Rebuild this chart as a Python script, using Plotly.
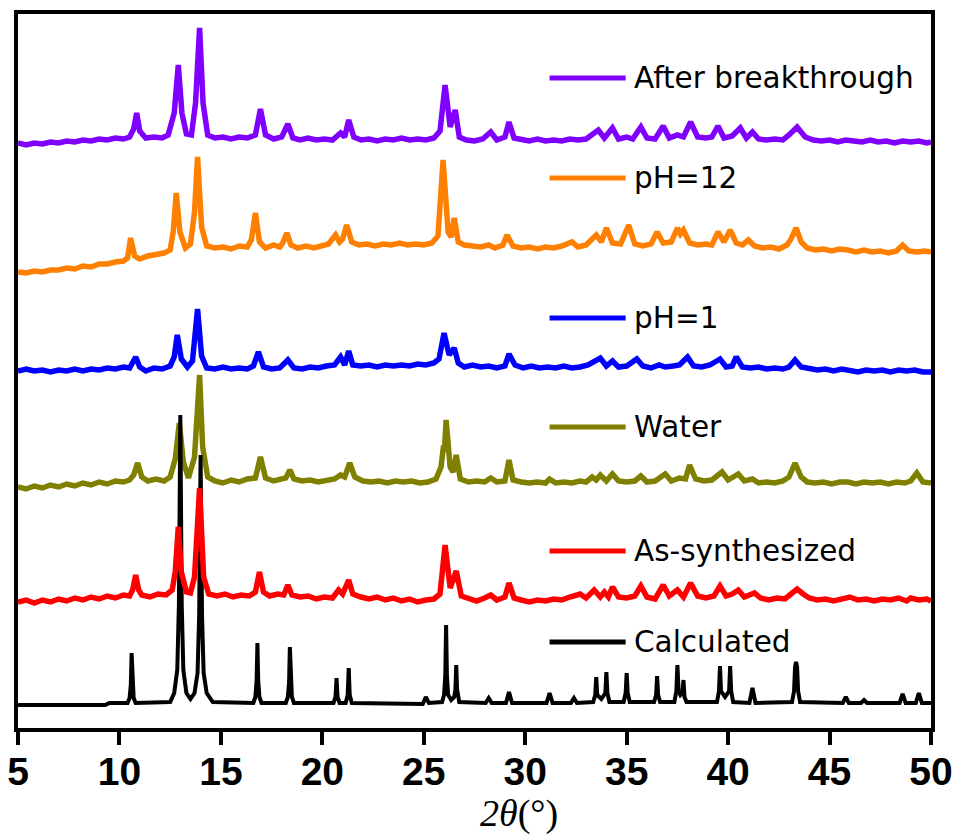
import plotly.graph_objects as go

# ---- Data: 2theta (deg) vs relative intensity (a.u., relative to each pattern's own baseline) ----
CALCULATED = [(5.0,0),(9.3,0),(9.5,2),
    (10.4,2),(10.5,7),(10.56,20),(10.6,52),(10.64,20),(10.7,7),(10.8,2),
    (12.5,3),(12.7,12),(12.85,35),(12.93,100),(13.0,290),(13.07,100),(13.15,35),(13.3,12),(13.5,6),
    (13.7,12),(13.85,32),(13.93,90),(14.0,250),(14.07,90),(14.15,32),(14.3,12),(14.6,3),
    (16.6,2),(16.7,8),(16.76,24),(16.8,62),(16.84,24),(16.9,8),(17.0,2),
    (18.2,2),(18.3,8),(18.36,22),(18.4,58),(18.44,22),(18.5,8),(18.6,2),
    (20.55,2),(20.65,8),(20.7,27),(20.75,8),(20.85,2),
    (21.15,2),(21.25,10),(21.3,37),(21.35,10),(21.45,2),
    (22.8,2),(23.0,1),(24.95,1),(25.1,8),(25.25,2),
    (25.9,3),(26.0,10),(26.06,30),(26.1,80),(26.14,30),(26.2,10),(26.35,5),
    (26.5,8),(26.56,16),(26.6,40),(26.64,16),(26.75,3),
    (28.05,2),(28.2,7),(28.35,2),(29.05,2),(29.2,13),(29.35,2),(31.05,2),(31.2,12),(31.35,2),(32.25,2),(32.4,7),(32.55,2),
    (33.35,3),(33.45,10),(33.5,28),(33.55,10),(33.75,6),(33.95,12),(34.0,33),(34.05,12),(34.15,3),
    (34.85,3),(34.95,12),(35.0,32),(35.05,12),(35.15,3),
    (36.35,3),(36.45,10),(36.5,29),(36.55,10),(36.65,3),
    (37.35,3),(37.45,14),(37.5,40),(37.56,14),(37.65,10),(37.75,12),(37.8,25),(37.85,8),(37.95,3),
    (39.45,3),(39.55,14),(39.6,39),(39.65,14),(39.85,8),(40.05,14),(40.1,39),(40.15,14),(40.25,3),
    (41.05,2),(41.2,17),(41.35,2),
    (43.15,3),(43.25,14),(43.3,38),(43.35,43),(43.4,38),(43.45,14),(43.55,3),
    (45.65,2),(45.8,8),(45.95,2),(46.55,2),(46.7,5),(46.85,2),(48.45,2),(48.6,11),(48.75,2),(49.25,2),(49.4,12),(49.55,2),(50.0,2)]

AS_SYNTHESIZED = [(5.0,0),(5.4,2),(5.8,-1),(6.2,2),(6.6,0),(7.0,3),(7.4,1),(7.8,4),(8.2,2),(8.6,5),(9.0,3),(9.4,6),(9.8,4),(10.2,7),(10.5,6),(10.65,12),(10.8,27),(10.95,12),(11.1,7),(11.5,5),(11.9,8),(12.3,7),(12.6,12),(12.75,30),(12.9,75),(13.05,30),(13.3,10),(13.5,9),(13.7,25),(13.95,114),(14.15,25),(14.4,8),(14.8,6),(15.2,8),(15.6,5),(16.0,7),(16.4,6),(16.7,10),(16.9,30),(17.1,10),(17.4,6),(17.8,8),(18.1,7),(18.3,17),(18.5,7),(18.9,5),(19.3,6),(19.7,3),(20.1,5),(20.5,4),(20.8,12),(21.0,8),(21.3,22),(21.5,8),(21.9,5),(22.3,3),(22.7,5),(23.1,2),(23.5,4),(23.9,1),(24.3,3),(24.7,0),(25.1,2),(25.5,3),(25.8,8),(26.05,57),(26.3,14),(26.6,31),(26.85,6),(27.2,3),(27.6,1),(28.0,4),(28.3,7),(28.6,2),(29.0,5),(29.2,19),(29.45,4),(29.8,2),(30.2,0),(30.6,2),(31.0,1),(31.4,3),(31.8,2),(32.2,5),(32.7,8),(33.0,4),(33.4,12),(33.7,5),(33.9,10),(34.1,5),(34.3,15),(34.6,5),(35.0,4),(35.4,6),(35.7,16),(36.0,5),(36.4,3),(36.8,17),(37.1,6),(37.5,12),(37.8,5),(38.15,19),(38.5,6),(38.9,4),(39.3,6),(39.6,16),(39.9,6),(40.2,8),(40.5,12),(40.8,5),(41.3,9),(41.6,4),(42.0,2),(42.4,4),(42.8,3),(43.1,8),(43.4,13),(43.7,8),(44.0,4),(44.4,2),(44.8,3),(45.2,1),(45.6,3),(46.0,5),(46.4,2),(46.8,3),(47.2,1),(47.6,3),(48.0,2),(48.4,4),(48.8,1),(49.0,4),(49.4,2),(49.8,3),(50.0,1)]

WATER = [(5.0,0),(5.4,-2),(5.8,1),(6.2,-1),(6.6,2),(7.0,0),(7.4,3),(7.8,1),(8.2,4),(8.6,2),(9.0,5),(9.4,3),(9.8,6),(10.2,5),(10.5,7),(10.7,12),(10.9,24),(11.1,10),(11.4,6),(11.8,8),(12.2,6),(12.5,10),(12.75,28),(12.95,64),(13.15,25),(13.4,9),(13.7,30),(13.85,70),(13.95,112),(14.1,40),(14.35,10),(14.7,6),(15.1,4),(15.5,7),(15.9,5),(16.3,8),(16.7,9),(16.95,30),(17.2,9),(17.6,6),(18.0,8),(18.2,9),(18.4,17),(18.6,8),(19.0,6),(19.4,7),(19.8,5),(20.2,7),(20.6,8),(20.9,12),(21.1,10),(21.35,24),(21.6,10),(22.0,6),(22.4,5),(22.8,6),(23.2,4),(23.6,6),(24.0,5),(24.4,6),(24.8,4),(25.2,5),(25.6,8),(25.85,20),(25.95,37),(26.02,36),(26.1,67),(26.3,20),(26.45,15),(26.6,32),(26.8,8),(27.2,5),(27.6,6),(28.0,5),(28.3,9),(28.6,5),(29.0,6),(29.2,27),(29.4,7),(29.8,5),(30.2,4),(30.6,5),(31.0,4),(31.2,8),(31.5,4),(31.9,5),(32.3,4),(32.7,6),(33.0,5),(33.3,10),(33.5,7),(33.7,12),(34.0,6),(34.3,13),(34.6,6),(35.0,5),(35.4,6),(35.7,11),(36.0,5),(36.4,6),(36.9,13),(37.2,6),(37.6,9),(37.9,8),(38.1,22),(38.4,8),(38.8,6),(39.2,7),(39.7,15),(40.0,7),(40.5,13),(40.8,6),(41.2,8),(41.5,4),(41.9,5),(42.3,4),(42.7,6),(43.0,10),(43.3,24),(43.6,10),(43.9,5),(44.3,4),(44.7,5),(45.1,3),(45.5,5),(45.9,5),(46.3,3),(46.7,5),(47.1,4),(47.5,5),(47.9,3),(48.3,5),(48.7,4),(49.0,6),(49.3,14),(49.6,5),(50.0,4)]

PH1 = [(5.0,0),(5.4,2),(5.8,0),(6.2,1),(6.6,-1),(7.0,1),(7.4,0),(7.8,2),(8.2,0),(8.6,2),(9.0,1),(9.4,3),(9.8,2),(10.2,4),(10.5,3),(10.8,14),(11.0,4),(11.3,0),(11.7,3),(12.1,2),(12.5,5),(12.7,14),(12.85,36),(13.05,12),(13.35,4),(13.6,10),(13.85,62),(14.05,15),(14.3,3),(14.7,2),(15.1,4),(15.5,2),(15.9,3),(16.3,2),(16.6,5),(16.85,19),(17.1,4),(17.5,2),(17.9,3),(18.3,11),(18.6,3),(19.0,2),(19.4,4),(19.8,3),(20.2,5),(20.6,6),(20.9,14),(21.1,6),(21.3,20),(21.5,6),(21.9,5),(22.3,6),(22.7,4),(23.1,6),(23.5,5),(23.9,6),(24.3,5),(24.7,7),(25.1,6),(25.5,8),(25.75,12),(26.0,38),(26.25,16),(26.5,23),(26.7,8),(27.0,4),(27.4,6),(27.8,4),(28.2,5),(28.6,3),(29.0,5),(29.2,17),(29.5,6),(29.9,3),(30.3,5),(30.7,3),(31.1,4),(31.5,3),(31.9,5),(32.3,3),(32.7,4),(33.1,6),(33.7,13),(34.0,5),(34.3,10),(34.6,4),(35.0,5),(35.5,12),(35.8,5),(36.2,3),(36.6,6),(36.9,4),(37.3,5),(37.6,6),(38.0,14),(38.3,5),(38.7,4),(39.1,6),(39.6,12),(39.9,4),(40.2,5),(40.4,14),(40.7,4),(41.1,3),(41.5,4),(41.9,2),(42.3,3),(42.7,2),(43.0,4),(43.3,11),(43.6,4),(44.0,2),(44.4,1),(44.8,2),(45.2,0),(45.6,2),(46.0,1),(46.4,-1),(46.8,1),(47.2,0),(47.6,1),(48.0,-1),(48.4,1),(48.8,0),(49.2,1),(49.6,-1),(50.0,-1)]

PH12 = [(5.0,0),(5.4,-1),(5.8,1),(6.2,0),(6.6,2),(7.0,2),(7.4,4),(7.8,3),(8.2,6),(8.6,5),(9.0,8),(9.4,8),(9.8,10),(10.2,11),(10.4,14),(10.55,34),(10.75,16),(11.0,13),(11.4,16),(11.8,17),(12.2,19),(12.5,22),(12.65,40),(12.8,79),(12.98,40),(13.25,24),(13.5,28),(13.7,60),(13.85,115),(14.05,45),(14.3,26),(14.7,24),(15.1,25),(15.5,23),(15.9,26),(16.3,25),(16.5,32),(16.7,59),(16.9,30),(17.2,24),(17.6,27),(17.9,25),(18.05,29),(18.25,39),(18.45,27),(18.8,24),(19.2,26),(19.6,24),(20.0,27),(20.3,28),(20.65,37),(20.85,30),(21.0,33),(21.2,47),(21.45,30),(21.8,27),(22.2,28),(22.6,26),(23.0,28),(23.4,27),(23.8,29),(24.2,27),(24.6,28),(25.0,27),(25.4,29),(25.7,36),(25.95,112),(26.2,40),(26.35,35),(26.5,54),(26.7,30),(27.0,27),(27.4,26),(27.8,25),(28.2,27),(28.5,24),(28.9,27),(29.1,37),(29.4,26),(29.8,24),(30.2,25),(30.6,23),(31.0,25),(31.4,24),(31.8,26),(32.3,30),(32.6,25),(33.0,27),(33.5,37),(33.75,30),(34.0,44),(34.3,29),(34.7,28),(35.1,47),(35.4,28),(35.8,26),(36.2,28),(36.5,40),(36.8,29),(37.2,30),(37.5,44),(37.65,38),(37.8,42),(38.1,29),(38.5,27),(38.9,28),(39.2,27),(39.5,40),(39.8,30),(40.1,42),(40.4,29),(40.7,27),(41.0,32),(41.3,26),(41.7,24),(42.1,25),(42.5,23),(42.9,27),(43.1,33),(43.35,44),(43.6,30),(43.9,24),(44.3,22),(44.7,23),(45.1,21),(45.5,23),(45.9,22),(46.3,20),(46.7,22),(47.1,20),(47.5,21),(47.9,19),(48.3,21),(48.6,27),(48.9,21),(49.3,20),(49.7,21),(50.0,20)]

AFTER_BREAKTHROUGH = [(5.0,0),(5.4,-2),(5.8,0),(6.2,-1),(6.6,1),(7.0,0),(7.4,2),(7.8,1),(8.2,3),(8.6,2),(9.0,4),(9.4,3),(9.8,5),(10.2,4),(10.5,6),(10.7,14),(10.85,30),(11.0,12),(11.3,5),(11.7,6),(12.1,5),(12.4,8),(12.7,30),(12.9,78),(13.08,30),(13.3,9),(13.55,8),(13.75,40),(13.95,115),(14.12,40),(14.35,8),(14.7,5),(15.1,6),(15.5,4),(15.9,6),(16.3,5),(16.7,8),(16.95,34),(17.2,8),(17.6,4),(18.0,6),(18.3,19),(18.55,5),(18.9,3),(19.3,5),(19.7,3),(20.1,4),(20.5,3),(20.9,10),(21.1,6),(21.3,23),(21.55,6),(21.9,3),(22.3,4),(22.7,2),(23.1,4),(23.5,3),(23.9,5),(24.3,3),(24.7,4),(25.1,3),(25.5,5),(25.8,12),(26.05,58),(26.3,16),(26.55,33),(26.75,6),(27.1,3),(27.5,2),(27.9,4),(28.3,11),(28.6,3),(29.0,6),(29.2,21),(29.45,5),(29.8,3),(30.2,2),(30.6,4),(31.0,2),(31.4,3),(31.8,2),(32.2,4),(32.6,3),(33.0,4),(33.6,13),(33.9,5),(34.3,15),(34.6,4),(35.0,6),(35.3,4),(35.7,16),(36.0,5),(36.4,4),(36.8,17),(37.1,5),(37.5,8),(37.8,6),(38.15,21),(38.5,6),(38.9,5),(39.2,6),(39.5,17),(39.8,5),(40.2,7),(40.6,15),(40.9,5),(41.2,11),(41.5,4),(41.9,3),(42.3,4),(42.7,3),(43.0,8),(43.4,16),(43.8,6),(44.2,3),(44.6,2),(45.0,3),(45.4,1),(45.8,3),(46.2,2),(46.6,1),(47.0,3),(47.4,1),(47.8,2),(48.2,0),(48.6,2),(49.0,1),(49.4,2),(49.8,0),(50.0,1)]

# stacking offsets (vertical shift applied to each pattern)
OFFSETS = {"Calculated": 23, "As-synthesized": 126, "Water": 241, "pH=1": 357, "pH=12": 456, "After breakthrough": 585}
X_TICKS = [5, 10, 15, 20, 25, 30, 35, 40, 45, 50]

# ---- styles ----
SERIES = [
    ("After breakthrough", AFTER_BREAKTHROUGH, "#8000FF", 5.5, 650),
    ("pH=12", PH12, "#FF8000", 5.5, 550),
    ("pH=1", PH1, "#0000FF", 5.5, 410),
    ("Water", WATER, "#808000", 5.5, 301),
    ("Calculated", CALCULATED, "#000000", 4, 86),
    ("As-synthesized", AS_SYNTHESIZED, "#FF0000", 5.5, 177),
]

fig = go.Figure()
shapes = []
annotations = []
for name, pts, color, lw, label_y in SERIES:
    xs = [p[0] for p in pts]
    ys = [p[1] + OFFSETS[name] for p in pts]
    fig.add_trace(go.Scatter(x=xs, y=ys, mode="lines", name=name,
                             line=dict(color=color, width=lw), showlegend=False))
    shapes.append(dict(type="line", xref="x", yref="y", x0=31.2, x1=34.95,
                       y0=label_y, y1=label_y, line=dict(color=color, width=5)))
    annotations.append(dict(x=35.25, y=label_y, xref="x", yref="y", text=name,
                            showarrow=False, xanchor="left", yanchor="middle",
                            font=dict(family="DejaVu Sans", size=29.5, color="black")))

annotations.append(dict(x=29.7, y=-0.12, xref="x", yref="paper", text="<i>2θ</i>(°)",
                        showarrow=False, xanchor="center", yanchor="middle",
                        font=dict(family="Liberation Serif", size=38, color="black")))

fig.update_layout(
    width=956, height=836,
    margin=dict(l=18, r=25, t=14, b=108),
    paper_bgcolor="white", plot_bgcolor="white",
    shapes=shapes, annotations=annotations,
    xaxis=dict(range=[5, 50], tickvals=X_TICKS, ticktext=[str(t) for t in X_TICKS],
               ticks="outside", ticklen=13, tickwidth=4, tickcolor="black",
               ticklabelstandoff=-7,
               showline=True, linewidth=4, linecolor="black", mirror=True,
               showgrid=False, zeroline=False, automargin=False,
               tickfont=dict(family="Liberation Sans", size=39, color="black", weight="bold")),
    yaxis=dict(range=[0, 714], showticklabels=False, ticks="",
               showline=True, linewidth=4, linecolor="black", mirror=True,
               showgrid=False, zeroline=False, automargin=False),
)

fig.write_html("out.html")
